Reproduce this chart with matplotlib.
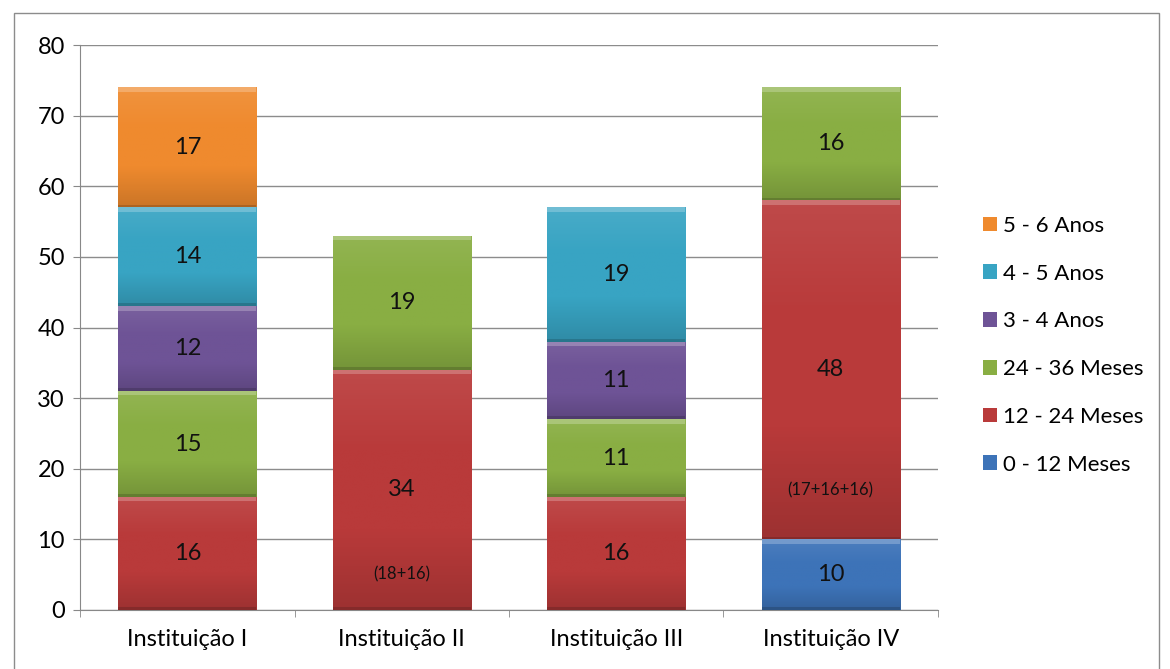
import numpy as np
import matplotlib.pyplot as plt
from matplotlib.colors import LinearSegmentedColormap, to_rgb
from matplotlib.patches import Rectangle

plt.rcParams['font.family'] = ['Lato', 'DejaVu Sans']

categorias = ['Instituição I', 'Instituição II', 'Instituição III', 'Instituição IV']
series = ['0 - 12 Meses', '12 - 24 Meses', '24 - 36 Meses', '3 - 4 Anos', '4 - 5 Anos', '5 - 6 Anos']
meses_0_12 = [0, 0, 0, 10]
meses_12_24 = [16, 34, 16, 48]
meses_24_36 = [15, 19, 11, 16]
anos_3_4 = [12, 0, 11, 0]
anos_4_5 = [14, 0, 19, 0]
anos_5_6 = [17, 0, 0, 0]
notas = [(1, '(18+16)'), (3, '(17+16+16)')]
notas_y = [5, 17]

cores = ['#3d73b8', '#b93a3a', '#89ae43', '#6e5396', '#38a4c3', '#ef8a2e']
valores = [meses_0_12, meses_12_24, meses_24_36, anos_3_4, anos_4_5, anos_5_6]

fig = plt.figure(figsize=(11.7, 6.69), dpi=100)
ax = fig.add_axes([0.0684, 0.0882, 0.7333, 0.8445])

x = np.arange(len(categorias))
base = np.zeros(len(categorias))
handles = []
for nome, vals, cor in zip(series, valores, cores):
    vals = np.array(vals, dtype=float)
    bars = ax.bar(x, vals, width=0.645, bottom=base, color=cor, label=nome,
                  edgecolor='none', zorder=3)
    handles.append(bars)
    rgb = np.array(to_rgb(cor))
    claro = rgb + (1 - rgb) * 0.28
    escuro = rgb * 0.72
    cmap = LinearSegmentedColormap.from_list('g', [rgb * 0.85, rgb, rgb * 1.0, rgb + (1 - rgb) * 0.08])
    for b, v in zip(bars, vals):
        if v <= 0:
            continue
        x0, y0, w, h = b.get_x(), b.get_y(), b.get_width(), b.get_height()
        grad = np.linspace(0, 1, 100).reshape(-1, 1)
        im = ax.imshow(grad, extent=[x0, x0 + w, y0, y0 + h], origin='lower',
                       cmap=cmap, aspect='auto', zorder=3.5)
        im.set_clip_path(b)
        # bisel: faixa clara no topo, escura na base
        ax.add_patch(Rectangle((x0, y0 + h - 0.6), w, 0.6, color=claro, zorder=3.6, lw=0))
        ax.add_patch(Rectangle((x0, y0), w, 0.4, color=escuro, zorder=3.6, lw=0))
        ax.text(x0 + w / 2, y0 + h / 2, f'{int(v)}', ha='center', va='center',
                fontsize=17, color='#111111', zorder=5)
    base += vals

for (i, nota), ny in zip(notas, notas_y):
    ax.text(x[i], ny, nota, ha='center', va='center',
            fontsize=12, color='#111111', zorder=5)

ax.set_xlim(-0.5, 3.5)
ax.set_ylim(0, 80)
ax.set_yticks(range(0, 81, 10))
ax.set_xticks(x)
ax.set_xticklabels(categorias)
ax.set_xticks(np.arange(-0.5, 4.0, 1.0), minor=True)
ax.tick_params(axis='x', which='major', length=0, pad=14, labelsize=17)
ax.tick_params(axis='x', which='minor', length=5, color='#888888')
ax.tick_params(axis='y', length=5, color='#888888', labelsize=17, pad=6)
ax.grid(axis='y', color='#8c8c8c', lw=1, zorder=0)
for s in ['top', 'right']:
    ax.spines[s].set_visible(False)
for s in ['left', 'bottom']:
    ax.spines[s].set_color('#888888')

leg = fig.legend(handles[::-1], series[::-1], loc='center left',
                 bbox_to_anchor=(0.823, 0.484), frameon=False, fontsize=16,
                 handlelength=0.65, handleheight=0.65, handletextpad=0.25,
                 labelspacing=1.25)

fig.patches.append(Rectangle((0.012, -0.01), 0.979, 0.99, transform=fig.transFigure,
                             fill=False, edgecolor='#8c8c8c', lw=1))

fig.savefig('out.png', dpi=100)
